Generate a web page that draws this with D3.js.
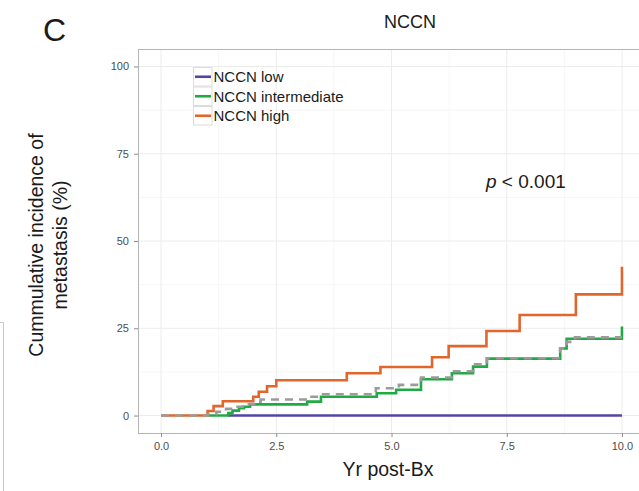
<!DOCTYPE html>
<html>
<head>
<meta charset="utf-8">
<script src="https://cdn.jsdelivr.net/npm/d3@7"></script>
<style>
  body { margin: 0; background: #fff; }
  svg { display: block; font-family: "Liberation Sans", Arial, Helvetica, sans-serif; }
  .tick text { fill: #4d4d4d; font-size: 11px; }
  .tick line { stroke: #8c8c8c; }
</style>
</head>
<body>
<script>
// step points: [years, cumulative incidence %]
var lowSteps = [[1.45, 0], [10.0, 0]];
var intermediateSteps = [[1.02, 0], [1.46, 0.7], [1.55, 1.4], [1.69, 2.1], [1.80, 2.5], [1.93, 3.2],
  [3.17, 4.0], [3.47, 5.4], [4.68, 6.4], [5.10, 7.4], [5.64, 10.4], [6.31, 12.1], [6.77, 14.0],
  [7.07, 16.3], [8.66, 19.2], [8.80, 22.0], [10.0, 25.5]];
var highSteps = [[0, 0], [1.01, 1.3], [1.14, 2.7], [1.34, 4.1], [2.00, 5.4], [2.12, 6.8], [2.30, 8.4],
  [2.50, 10.1], [4.03, 12.1], [4.76, 13.9], [5.88, 16.7], [6.24, 19.9], [7.06, 24.2], [7.78, 28.8],
  [9.00, 34.7], [10.0, 42.6]];
var overallSteps = [[0, 0], [1.01, 0.4], [1.20, 1.1], [1.41, 1.9], [1.66, 2.5], [1.77, 3.3], [2.02, 4.0],
  [2.16, 4.6], [3.17, 5.4], [3.46, 6.1], [4.66, 7.8], [5.16, 8.8], [5.64, 10.9], [6.31, 12.7],
  [6.77, 14.7], [7.07, 16.4], [8.66, 19.2], [8.80, 21.1], [8.98, 22.4], [10.0, 22.4]];

var seriesNames = ["NCCN low", "NCCN intermediate", "NCCN high"];
var seriesColors = ["#5046a8", "#1faa44", "#e2662c"];
var xTicks = [0, 2.5, 5, 7.5, 10];
var xMinor = [1.25, 3.75, 6.25, 8.75];
var yTicks = [0, 25, 50, 75, 100];
var yMinor = [12.5, 37.5, 62.5, 87.5];

const WIDTH = 639;
const HEIGHT = 491;
const PANEL_LEFT = 138;
const PANEL_RIGHT = 645;
const PANEL_TOP = 49;
const PANEL_BOTTOM = 433;

var xScale = d3.scaleLinear().domain([-0.5, 10.5]).range([PANEL_LEFT, PANEL_RIGHT]);
var yScale = d3.scaleLinear().domain([-5, 105]).range([PANEL_BOTTOM, PANEL_TOP]);

var stepLine = d3.line()
  .x(function(d){ return xScale(d[0]); })
  .y(function(d){ return yScale(d[1]); })
  .curve(d3.curveStepAfter);

var svg = d3.select("body").append("svg")
  .attr("width", WIDTH)
  .attr("height", HEIGHT);

// scrap of the neighbouring panel at the far left
svg.append("path")
  .attr("d", "M0,322.5H3.5V491")
  .attr("fill", "none")
  .attr("stroke", "#c8c8c8");

// panel title and letter
svg.append("text").attr("x", 43).attr("y", 41)
  .attr("font-size", 32).attr("fill", "#1a1a1a").text("C");
svg.append("text").attr("x", 410).attr("y", 28)
  .attr("text-anchor", "middle").attr("font-size", 18).attr("fill", "#1a1a1a").text("NCCN");

// grid
var grid = svg.append("g");
grid.selectAll(".xminor").data(xMinor).enter().append("line")
  .attr("x1", xScale).attr("x2", xScale).attr("y1", PANEL_TOP).attr("y2", PANEL_BOTTOM)
  .attr("stroke", "#f6f6f6");
grid.selectAll(".yminor").data(yMinor).enter().append("line")
  .attr("y1", yScale).attr("y2", yScale).attr("x1", PANEL_LEFT).attr("x2", PANEL_RIGHT)
  .attr("stroke", "#f6f6f6");
grid.selectAll(".xmajor").data(xTicks).enter().append("line")
  .attr("x1", xScale).attr("x2", xScale).attr("y1", PANEL_TOP).attr("y2", PANEL_BOTTOM)
  .attr("stroke", "#ececec");
grid.selectAll(".ymajor").data(yTicks).enter().append("line")
  .attr("y1", yScale).attr("y2", yScale).attr("x1", PANEL_LEFT).attr("x2", PANEL_RIGHT)
  .attr("stroke", "#ececec");

// curves
var curves = svg.append("g").attr("fill", "none").attr("stroke-width", 2.6);
[lowSteps, intermediateSteps, highSteps].forEach(function(steps, i){
  curves.append("path").attr("d", stepLine(steps)).attr("stroke", seriesColors[i]);
});
curves.append("path").attr("d", stepLine(overallSteps))
  .attr("stroke", "#9b9b9b").attr("stroke-dasharray", "8,6");

// panel border
svg.append("rect")
  .attr("x", PANEL_LEFT + 0.5).attr("y", PANEL_TOP + 0.5)
  .attr("width", PANEL_RIGHT - PANEL_LEFT).attr("height", PANEL_BOTTOM - PANEL_TOP)
  .attr("fill", "none").attr("stroke", "#b5b5b5");

// axes
var xAxis = svg.append("g")
  .attr("transform", "translate(0," + PANEL_BOTTOM + ")")
  .call(d3.axisBottom(xScale).tickValues(xTicks).tickSize(4).tickPadding(5)
    .tickFormat(d3.format(".1f")));
xAxis.select(".domain").remove();

var yAxis = svg.append("g")
  .attr("transform", "translate(" + PANEL_LEFT + ",0)")
  .call(d3.axisLeft(yScale).tickValues(yTicks).tickSize(4).tickPadding(5));
yAxis.select(".domain").remove();

// axis titles
svg.append("text").attr("x", 388).attr("y", 476)
  .attr("text-anchor", "middle").attr("font-size", 19.5).attr("fill", "#1a1a1a")
  .text("Yr post-Bx");

var yTitle = svg.append("text")
  .attr("transform", "translate(43,245) rotate(-90)")
  .attr("text-anchor", "middle").attr("font-size", 19.5).attr("fill", "#1a1a1a");
yTitle.append("tspan").attr("x", 0).attr("y", 0).text("Cummulative incidence of");
yTitle.append("tspan").attr("x", 0).attr("y", 24).text("metastasis (%)");

// p value
var pText = svg.append("text").attr("x", 486).attr("y", 188)
  .attr("font-size", 19).attr("fill", "#1a1a1a");
pText.append("tspan").attr("font-style", "italic").text("p");
pText.append("tspan").text(" < 0.001");

// legend
var legend = svg.append("g").attr("transform", "translate(193,67)");
var rows = legend.selectAll("g").data(seriesNames).enter().append("g")
  .attr("transform", function(d, i){ return "translate(0," + (i * 19.5) + ")"; });
rows.append("rect")
  .attr("x", 0.5).attr("y", 0.5).attr("width", 18.5).attr("height", 18.5)
  .attr("fill", "#fff").attr("stroke", "#dcdcdc");
rows.append("line")
  .attr("x1", 2).attr("x2", 18).attr("y1", 9.75).attr("y2", 9.75)
  .attr("stroke-width", 2.6)
  .attr("stroke", function(d, i){ return seriesColors[i]; });
rows.append("text")
  .attr("x", 20.5).attr("y", 15)
  .attr("font-size", 15).attr("fill", "#1a1a1a")
  .text(function(d){ return d; });
</script>
</body>
</html>
